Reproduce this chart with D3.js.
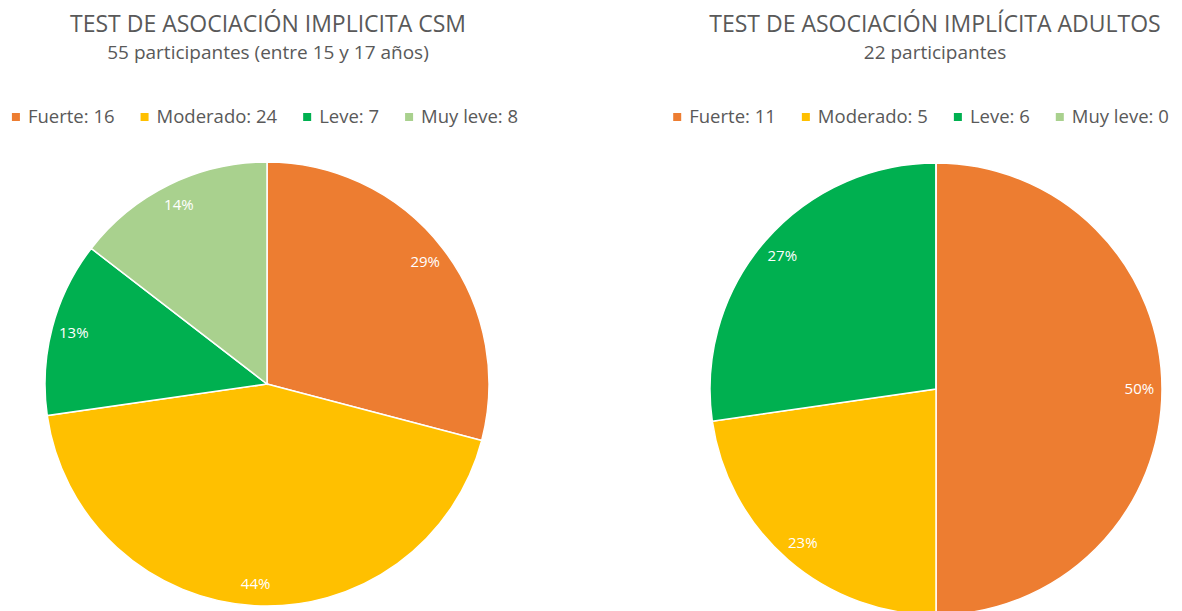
<!DOCTYPE html>
<html>
<head>
<meta charset="utf-8">
<script src="https://cdn.jsdelivr.net/npm/d3@7"></script>
<style>
  body { margin: 0; background: #fff; }
  svg { display: block; font-family: "Open Sans", sans-serif; }
</style>
</head>
<body>
<svg id="chart" width="1182" height="611"></svg>
<script>
// categories shared by both charts
var categories = ["Fuerte", "Moderado", "Leve", "Muy leve"];
var colors = ["#ED7D31", "#FFC000", "#00B050", "#A9D18E"];

// left chart: students
var csm_values = [16, 24, 7, 8];
var csm_labels = ["29%", "44%", "13%", "14%"];
var csm_title = "TEST DE ASOCIACIÓN IMPLICITA CSM";
var csm_subtitle = "55 participantes (entre 15 y 17 años)";

// right chart: adults
var adult_values = [11, 5, 6, 0];
var adult_labels = ["50%", "23%", "27%", ""];
var adult_title = "TEST DE ASOCIACIÓN IMPLÍCITA ADULTOS";
var adult_subtitle = "22 participantes";

var svg = d3.select("#chart");
var text_color = "#595959";

var color_scale = d3.scaleOrdinal().domain(categories).range(colors);

function drawPie(values, labels, title, subtitle, cx, cy, radius, title_x, legend_x) {
    var g = svg.append("g");
    var data = categories.map(function(c, i) { return {name: c, value: values[i], label: labels[i]}; });

    g.append("text")
        .attr("x", title_x).attr("y", 32)
        .attr("text-anchor", "middle")
        .style("font-size", "23px")
        .style("fill", text_color)
        .text(title);
    g.append("text")
        .attr("x", title_x).attr("y", 59)
        .attr("text-anchor", "middle")
        .style("font-size", "19px")
        .style("fill", text_color)
        .text(subtitle);

    // legend
    var legend = g.append("g");
    var x = 0;
    data.forEach(function(d) {
        legend.append("rect")
            .attr("x", x).attr("y", 113)
            .attr("width", 8).attr("height", 8)
            .style("fill", color_scale(d.name));
        var t = legend.append("text")
            .attr("x", x + 16).attr("y", 123)
            .style("font-size", "18.5px")
            .style("fill", text_color)
            .text(d.name + ": " + d.value);
        x += 16 + t.node().getComputedTextLength() + 26;
    });
    var legend_w = x - 26;
    legend.attr("transform", "translate(" + (legend_x - legend_w / 2) + ",0)");

    var pie = d3.pie().sort(null).value(function(d) { return d.value; });
    var arc = d3.arc().innerRadius(0).outerRadius(radius);
    var label_arc = d3.arc().innerRadius(radius * 0.9).outerRadius(radius * 0.9);

    var slices = g.append("g").attr("transform", "translate(" + cx + "," + cy + ")");
    var arcs = pie(data);

    slices.selectAll("path")
        .data(arcs)
        .enter()
        .append("path")
        .attr("d", arc)
        .style("fill", function(d) { return color_scale(d.data.name); })
        .style("stroke", "#fff")
        .style("stroke-width", 1.5);

    slices.selectAll("text")
        .data(arcs.filter(function(d) { return d.data.value > 0; }))
        .enter()
        .append("text")
        .attr("transform", function(d) { return "translate(" + label_arc.centroid(d) + ")"; })
        .attr("text-anchor", "middle")
        .attr("dy", "0.35em")
        .style("font-size", "15px")
        .style("fill", "#fff")
        .text(function(d) { return d.data.label; });
}

drawPie(csm_values, csm_labels, csm_title, csm_subtitle, 267, 384, 222, 268, 265);
drawPie(adult_values, adult_labels, adult_title, adult_subtitle, 936, 389, 226, 935, 921);
</script>
</body>
</html>
